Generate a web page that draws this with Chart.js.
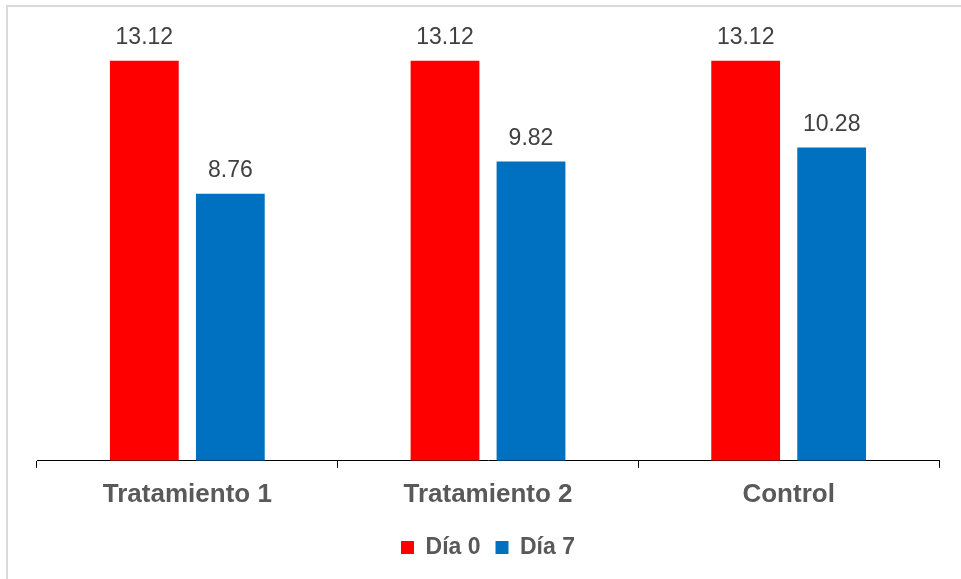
<!DOCTYPE html>
<html>
<head>
<meta charset="utf-8">
<script src="https://cdn.jsdelivr.net/npm/chart.js@4"></script>
<style>
    html, body { margin: 0; padding: 0; background: #fff; overflow: hidden; }
    #wrap { position: relative; width: 961px; height: 579px; }
    #frame {
        position: absolute; left: 6px; top: 5px; width: 980px; height: 600px;
        border: 2px solid #d9d9d9; pointer-events: none;
    }
</style>
</head>
<body>
<div id="wrap">
    <canvas id="barChart" width="961" height="579"></canvas>
    <div id="frame"></div>
</div>
<script>
// datos del gráfico
const categories = ['Tratamiento 1', 'Tratamiento 2', 'Control'];
const seriesNames = ['Día 0', 'Día 7'];
const dia0 = [13.12, 13.12, 13.12];
const dia7 = [8.76, 9.82, 10.28];
const yMin = 0;
const yMax = 14;

const FONT = 'Arial, "Liberation Sans", sans-serif';

const barLabels = {
    id: 'barLabels',
    afterDatasetsDraw(chart) {
        const ctx = chart.ctx;
        ctx.save();
        ctx.font = '23px ' + FONT;
        ctx.fillStyle = '#404040';
        ctx.textAlign = 'center';
        ctx.textBaseline = 'middle';
        chart.data.datasets.forEach((ds, i) => {
            const meta = chart.getDatasetMeta(i);
            meta.data.forEach((bar, j) => {
                ctx.fillText(ds.data[j].toFixed(2), bar.x, bar.y - 23);
            });
        });
        ctx.restore();
    }
};

new Chart(document.getElementById('barChart'), {
    type: 'bar',
    data: {
        labels: categories,
        datasets: [
            {
                label: seriesNames[0],
                data: dia0,
                backgroundColor: '#ff0000',
                borderWidth: 0,
                barPercentage: 0.8,
                categoryPercentage: 0.572
            },
            {
                label: seriesNames[1],
                data: dia7,
                backgroundColor: '#0070c0',
                borderWidth: 0,
                barPercentage: 0.8,
                categoryPercentage: 0.572
            }
        ]
    },
    options: {
        responsive: false,
        animation: false,
        layout: { padding: { left: 37, right: 22, top: 34, bottom: 10 } },
        plugins: {
            legend: {
                position: 'bottom',
                labels: {
                    boxWidth: 13,
                    boxHeight: 13,
                    padding: 15,
                    color: '#595959',
                    font: { family: FONT, size: 23, weight: 'bold' }
                }
            },
            tooltip: { enabled: false }
        },
        scales: {
            x: {
                grid: {
                    offset: true,
                    drawOnChartArea: false,
                    drawTicks: true,
                    tickLength: 7,
                    color: '#000'
                },
                border: { display: true, color: '#000', width: 1 },
                ticks: {
                    padding: 11,
                    color: '#595959',
                    font: { family: FONT, size: 26, weight: 'bold' }
                }
            },
            y: {
                display: false,
                min: yMin,
                max: yMax
            }
        }
    },
    plugins: [barLabels]
});
</script>
</body>
</html>
